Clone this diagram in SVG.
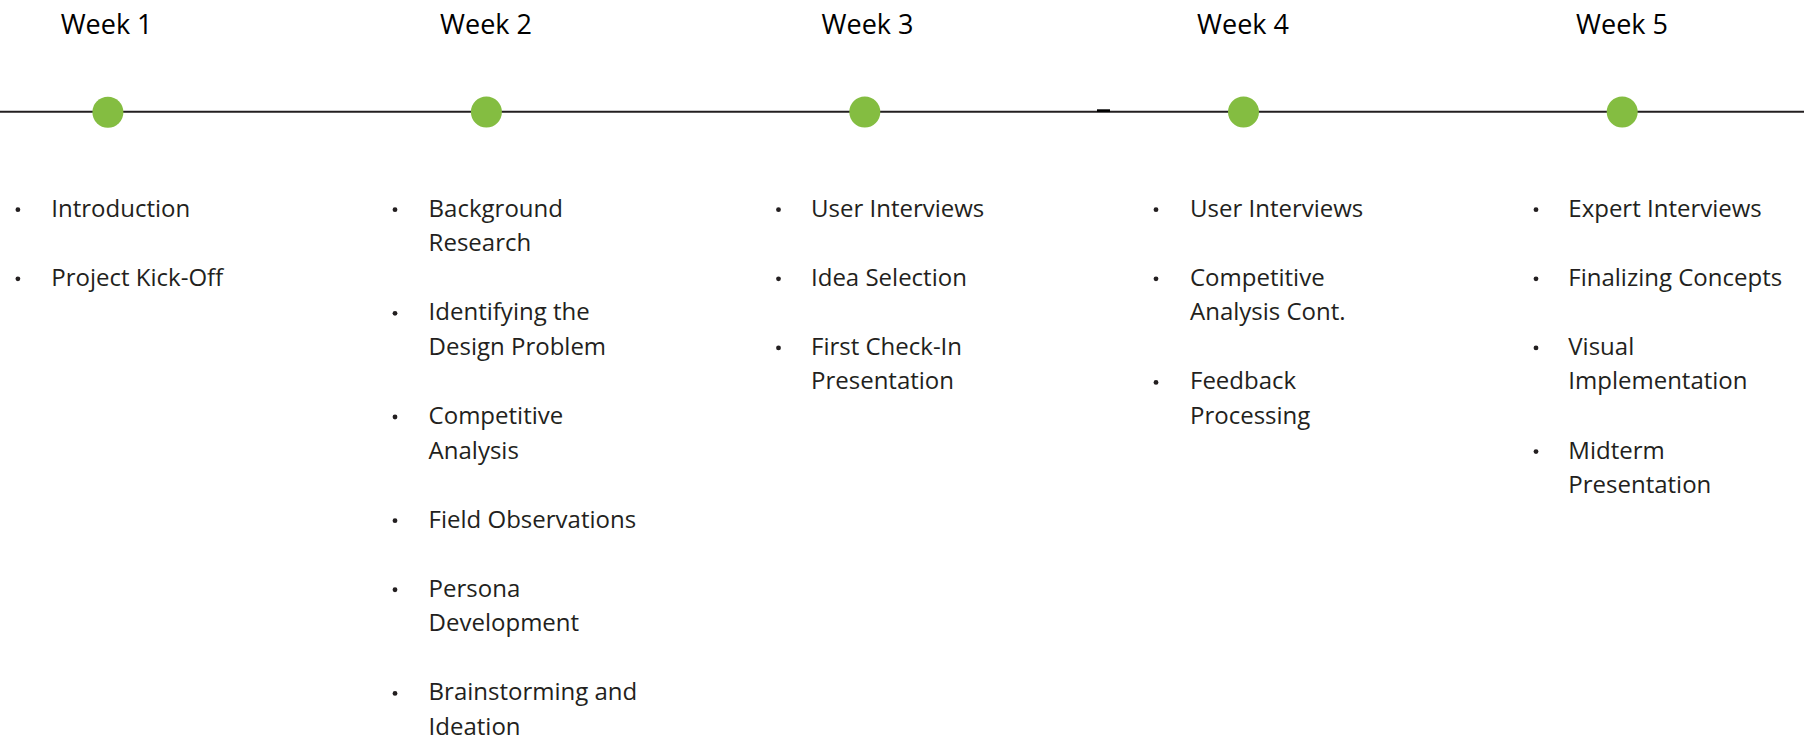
<svg xmlns="http://www.w3.org/2000/svg" width="1804" height="741" viewBox="0 0 1804 741">
  <style>
    .week { font-family: "Open Sans", "Noto Sans", "Liberation Sans", sans-serif; font-size: 27px; fill: #000; text-anchor: middle; }
    .item { font-family: "Open Sans", "Noto Sans", "Liberation Sans", sans-serif; font-size: 24px; fill: #231f20; }
    .dot { fill: #84bd41; }
    .bullet { fill: #231f20; }
  </style>
  <rect width="1804" height="741" fill="#fff"/>

  <!-- timeline axis -->
  <g id="connectors">
    <line x1="0" y1="111.7" x2="1804" y2="111.7" stroke="#231f20" stroke-width="2"/>
    <rect x="1097" y="109.3" width="13" height="2.6" fill="#000"/>
  </g>

  <g id="week1">
    <text class="week" x="106.6" y="34">Week 1</text>
    <circle class="dot" cx="107.9" cy="112.3" r="15.5"/>
    <circle class="bullet" cx="17.9" cy="209.7" r="2.4"/>
    <text class="item" x="51.3" y="216.7">Introduction</text>
    <circle class="bullet" cx="17.9" cy="278.8" r="2.4"/>
    <text class="item" x="51.3" y="285.8">Project Kick-Off</text>
  </g>

  <g id="week2">
    <text class="week" x="486" y="34">Week 2</text>
    <circle class="dot" cx="486.4" cy="112" r="15.5"/>
    <circle class="bullet" cx="395" cy="209.7" r="2.4"/>
    <text class="item" x="428.6" y="216.7">Background</text>
    <text class="item" x="428.6" y="251.25">Research</text>
    <circle class="bullet" cx="395" cy="313.35" r="2.4"/>
    <text class="item" x="428.6" y="320.35">Identifying the</text>
    <text class="item" x="428.6" y="354.9">Design Problem</text>
    <circle class="bullet" cx="395" cy="417" r="2.4"/>
    <text class="item" x="428.6" y="424">Competitive</text>
    <text class="item" x="428.6" y="458.55">Analysis</text>
    <circle class="bullet" cx="395" cy="520.65" r="2.4"/>
    <text class="item" x="428.6" y="527.65">Field Observations</text>
    <circle class="bullet" cx="395" cy="589.75" r="2.4"/>
    <text class="item" x="428.6" y="596.75">Persona</text>
    <text class="item" x="428.6" y="631.3">Development</text>
    <circle class="bullet" cx="395" cy="693.4" r="2.4"/>
    <text class="item" x="428.6" y="700.4">Brainstorming and</text>
    <text class="item" x="428.6" y="734.95">Ideation</text>
  </g>

  <g id="week3">
    <text class="week" x="867.5" y="34">Week 3</text>
    <circle class="dot" cx="864.8" cy="112" r="15.5"/>
    <circle class="bullet" cx="778.5" cy="209.7" r="2.4"/>
    <text class="item" x="811" y="216.7">User Interviews</text>
    <circle class="bullet" cx="778.5" cy="278.8" r="2.4"/>
    <text class="item" x="811" y="285.8">Idea Selection</text>
    <circle class="bullet" cx="778.5" cy="347.9" r="2.4"/>
    <text class="item" x="811" y="354.9">First Check-In</text>
    <text class="item" x="811" y="389.45">Presentation</text>
  </g>

  <g id="week4">
    <text class="week" x="1243" y="34">Week 4</text>
    <circle class="dot" cx="1243.5" cy="112" r="15.5"/>
    <circle class="bullet" cx="1156" cy="209.7" r="2.4"/>
    <text class="item" x="1190" y="216.7">User Interviews</text>
    <circle class="bullet" cx="1156" cy="278.8" r="2.4"/>
    <text class="item" x="1190" y="285.8">Competitive</text>
    <text class="item" x="1190" y="320.35">Analysis Cont.</text>
    <circle class="bullet" cx="1156" cy="382.45" r="2.4"/>
    <text class="item" x="1190" y="389.45">Feedback</text>
    <text class="item" x="1190" y="424">Processing</text>
  </g>

  <g id="week5">
    <text class="week" x="1622" y="34">Week 5</text>
    <circle class="dot" cx="1622.2" cy="112" r="15.5"/>
    <circle class="bullet" cx="1536" cy="209.7" r="2.4"/>
    <text class="item" x="1568.3" y="216.7">Expert Interviews</text>
    <circle class="bullet" cx="1536" cy="278.8" r="2.4"/>
    <text class="item" x="1568.3" y="285.8">Finalizing Concepts</text>
    <circle class="bullet" cx="1536" cy="347.9" r="2.4"/>
    <text class="item" x="1568.3" y="354.9">Visual</text>
    <text class="item" x="1568.3" y="389.45">Implementation</text>
    <circle class="bullet" cx="1536" cy="451.55" r="2.4"/>
    <text class="item" x="1568.3" y="458.55">Midterm</text>
    <text class="item" x="1568.3" y="493.1">Presentation</text>
  </g>
</svg>
